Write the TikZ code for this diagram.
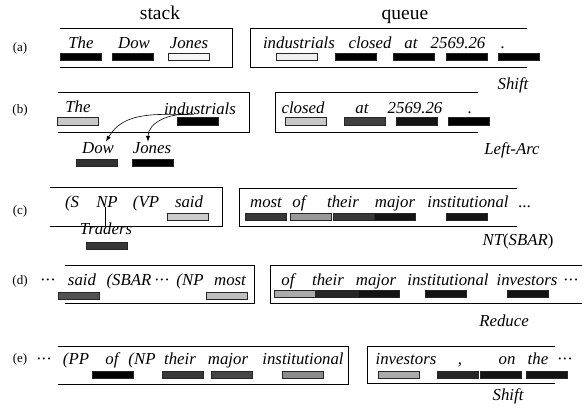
\documentclass[tikz,border=0pt]{standalone}
\usepackage{fontspec}
\setmainfont{Liberation Serif}
\usetikzlibrary{arrows.meta}
\newcommand{\mdots}{{\upshape\textperiodcentered\kern-0.5pt\textperiodcentered\kern-0.5pt\textperiodcentered}}

\begin{document}
\begin{tikzpicture}[>=Latex,x=1pt,y=-1pt,line width=0.8pt,
  every node/.style={inner sep=0pt},
  w/.style={anchor=base,font=\fontsize{16.8}{18}\selectfont\itshape},
  bar/.style={draw=black!85,line width=0.6pt,minimum width=41pt,minimum height=7.5pt,fill=#1},
  lbl/.style={anchor=base,font=\fontsize{13}{14}\selectfont},
  head/.style={anchor=base,font=\fontsize{19.5}{21}\selectfont}]
  \useasboundingbox (0,0) rectangle (585,407);
  \node[head] (stk) at (160,19) {stack};
  \node[head] (que) at (405,19) {queue};
  % (a)
  \node[lbl] (la) at (20,51) {(a)};
  \draw (60,28) -- (232,28) -- (232,67) -- (60,67);
  \draw (527,28) -- (250,28) -- (250,67) -- (527,67);
  \node[w] (aThe) at (81,48) {The};
  \node[w] (aDow) at (134,48) {Dow};
  \node[w] (aJones) at (189,48) {Jones};
  \node[bar=black] (aTheB) at (81,57) {};
  \node[bar=black] (aDowB) at (133,57) {};
  \node[bar=black!4] (aJonesB) at (189,57) {};
  \node[w] (aInd) at (299,48) {industrials};
  \node[w] (aClosed) at (370,48) {closed};
  \node[w] (aAt) at (411,48) {at};
  \node[w] (aNum) at (458,48) {2569.26};
  \node[w] (aDot) at (503,48) {.};
  \node[bar=black!6] (aIndB) at (297,57) {};
  \node[bar=black] (aClosedB) at (356,57) {};
  \node[bar=black] (aAtB) at (414,57) {};
  \node[bar=black] (aNumB) at (467,57) {};
  \node[bar=black] (aDotB) at (519,57) {};
  \node[w] (aAct) at (513,89) {Shift};
  % (b)
  \node[lbl] (lb) at (20,113) {(b)};
  \draw (58,92) -- (249,92) -- (249,132) -- (58,132);
  \draw (478,92) -- (275,92) -- (275,132) -- (478,132);
  \node[w] (bThe) at (78,112) {The};
  \node[w] (bInd) at (200,114) {industrials};
  \node[bar=black!22] (bTheB) at (78,121.5) {};
  \node[bar=black] (bIndB) at (198,121.5) {};
  \node[w] (bClosed) at (303,113) {closed};
  \node[w] (bAt) at (362,113) {at};
  \node[w] (bNum) at (415,113) {2569.26};
  \node[w] (bDot) at (470,113) {.};
  \node[bar=black!22] (bClosedB) at (306,121.5) {};
  \node[bar=black!75] (bAtB) at (365,121.5) {};
  \node[bar=black!92] (bNumB) at (417,121.5) {};
  \node[bar=black] (bDotB) at (469,121.5) {};
  \node[w] (bDow) at (98,153) {Dow};
  \node[w] (bJones) at (152,153) {Jones};
  \node[bar=black!80] (bDowB) at (97,163) {};
  \node[bar=black] (bJonesB) at (153,163) {};
  \draw[->,line width=0.6pt] ([xshift=-6pt]bInd.south) to[out=180,in=60] ([xshift=8pt]bDow.north);
  \draw[->,line width=0.6pt] ([xshift=-12pt]bInd.south) to[out=175,in=90] ([xshift=-4pt]bJones.north);
  \node[w] (bAct) at (512,154) {Left-Arc};
  % (c)
  \node[lbl] (lc) at (20,214) {(c)};
  \draw (50,187) -- (222,187) -- (222,226) -- (50,226);
  \draw (517,188) -- (239,188) -- (239,226) -- (517,226);
  \node[w] (cS) at (72,207) {(S};
  \node[w] (cNP) at (107,207) {NP};
  \node[w] (cVP) at (146,207) {(VP};
  \node[w] (cSaid) at (189,207) {said};
  \node[bar=black!20] (cSaidB) at (188,217) {};
  \node[w] (cTraders) at (106,234) {Traders};
  \node[bar=black!78] (cTradersB) at (107,246) {};
  \draw[line width=0.6pt] ([xshift=-2pt]cNP.south) -- ([xshift=-1pt,yshift=-5pt]cTraders.north);
  \node[w] (cMost) at (266,207) {most};
  \node[w] (cOf) at (299,207) {of};
  \node[w] (cTheir) at (343,207) {their};
  \node[w] (cMajor) at (395,207) {major};
  \node[w] (cInst) at (468,207) {institutional};
  \node[w] (cMore) at (525,207) {...};
  \node[bar=black!78] (cMostB) at (266,217) {};
  \node[bar=black!40] (cOfB) at (311,217) {};
  \node[bar=black!78] (cTheirB) at (354,217) {};
  \node[bar=black!92] (cMajorB) at (395,217) {};
  \node[bar=black!92] (cInstB) at (467,217) {};
  \node[w] (cAct) at (518,245) {NT\upshape(\itshape SBAR\upshape)};
  % (d)
  \node[lbl] (ld) at (20,284) {(d)};
  \draw (65,265) -- (254,265) -- (254,303) -- (65,303);
  \draw (582,265) -- (270,265) -- (270,303) -- (582,303);
  \node[w] (dMore) at (48,285) {\mdots};
  \node[w] (dSaid) at (82,285) {said};
  \node[w] (dSbar) at (129,285) {(SBAR};
  \node[w] (dDots) at (162,285) {\mdots};
  \node[w] (dNP) at (190,285) {(NP};
  \node[w] (dMost) at (230,285) {most};
  \node[bar=black!68] (dSaidB) at (79,296) {};
  \node[bar=black!25] (dMostB) at (227,296) {};
  \node[w] (dOf) at (288,285) {of};
  \node[w] (dTheir) at (328,285) {their};
  \node[w] (dMajor) at (376,285) {major};
  \node[w] (dInst) at (448,285) {institutional};
  \node[w] (dInv) at (527,285) {investors};
  \node[w] (dTail) at (571,285) {\mdots};
  \node[bar=black!33] (dOfB) at (295,294) {};
  \node[bar=black!85] (dTheirB) at (337,294) {};
  \node[bar=black!92] (dMajorB) at (379,294) {};
  \node[bar=black!92] (dInstB) at (446,294) {};
  \node[bar=black!92] (dInvB) at (528,294) {};
  \node[w] (dAct) at (504,326) {Reduce};
  % (e)
  \node[lbl] (le) at (20,362) {(e)};
  \draw (58,346) -- (348,346) -- (348,384) -- (58,384);
  \draw (555,346) -- (367,346) -- (367,383) -- (555,383);
  \node[w] (eMore) at (44,364) {\mdots};
  \node[w] (ePP) at (76,364) {(PP};
  \node[w] (eOf) at (112,364) {of};
  \node[w] (eNP) at (142,364) {(NP};
  \node[w] (eTheir) at (180,364) {their};
  \node[w] (eMajor) at (228,364) {major};
  \node[w] (eInst) at (303,364) {institutional};
  \node[bar=black] (eOfB) at (113,375) {};
  \node[bar=black!78] (eTheirB) at (183,375) {};
  \node[bar=black!72] (eMajorB) at (232,375) {};
  \node[bar=black!45] (eInstB) at (303,375) {};
  \node[w] (eInv) at (406,364) {investors};
  \node[w] (eComma) at (460,364) {,};
  \node[w] (eOn) at (507,364) {on};
  \node[w] (eThe) at (538,364) {the};
  \node[w] (eTail) at (565,364) {\mdots};
  \node[bar=black!33] (eInvB) at (399,375) {};
  \node[bar=black!85] (eCommaB) at (458,375) {};
  \node[bar=black!92] (eOnB) at (501,375) {};
  \node[bar=black!92] (eTheB) at (547,375) {};
  \node[w] (eAct) at (508,400) {Shift};
\end{tikzpicture}
\end{document}
